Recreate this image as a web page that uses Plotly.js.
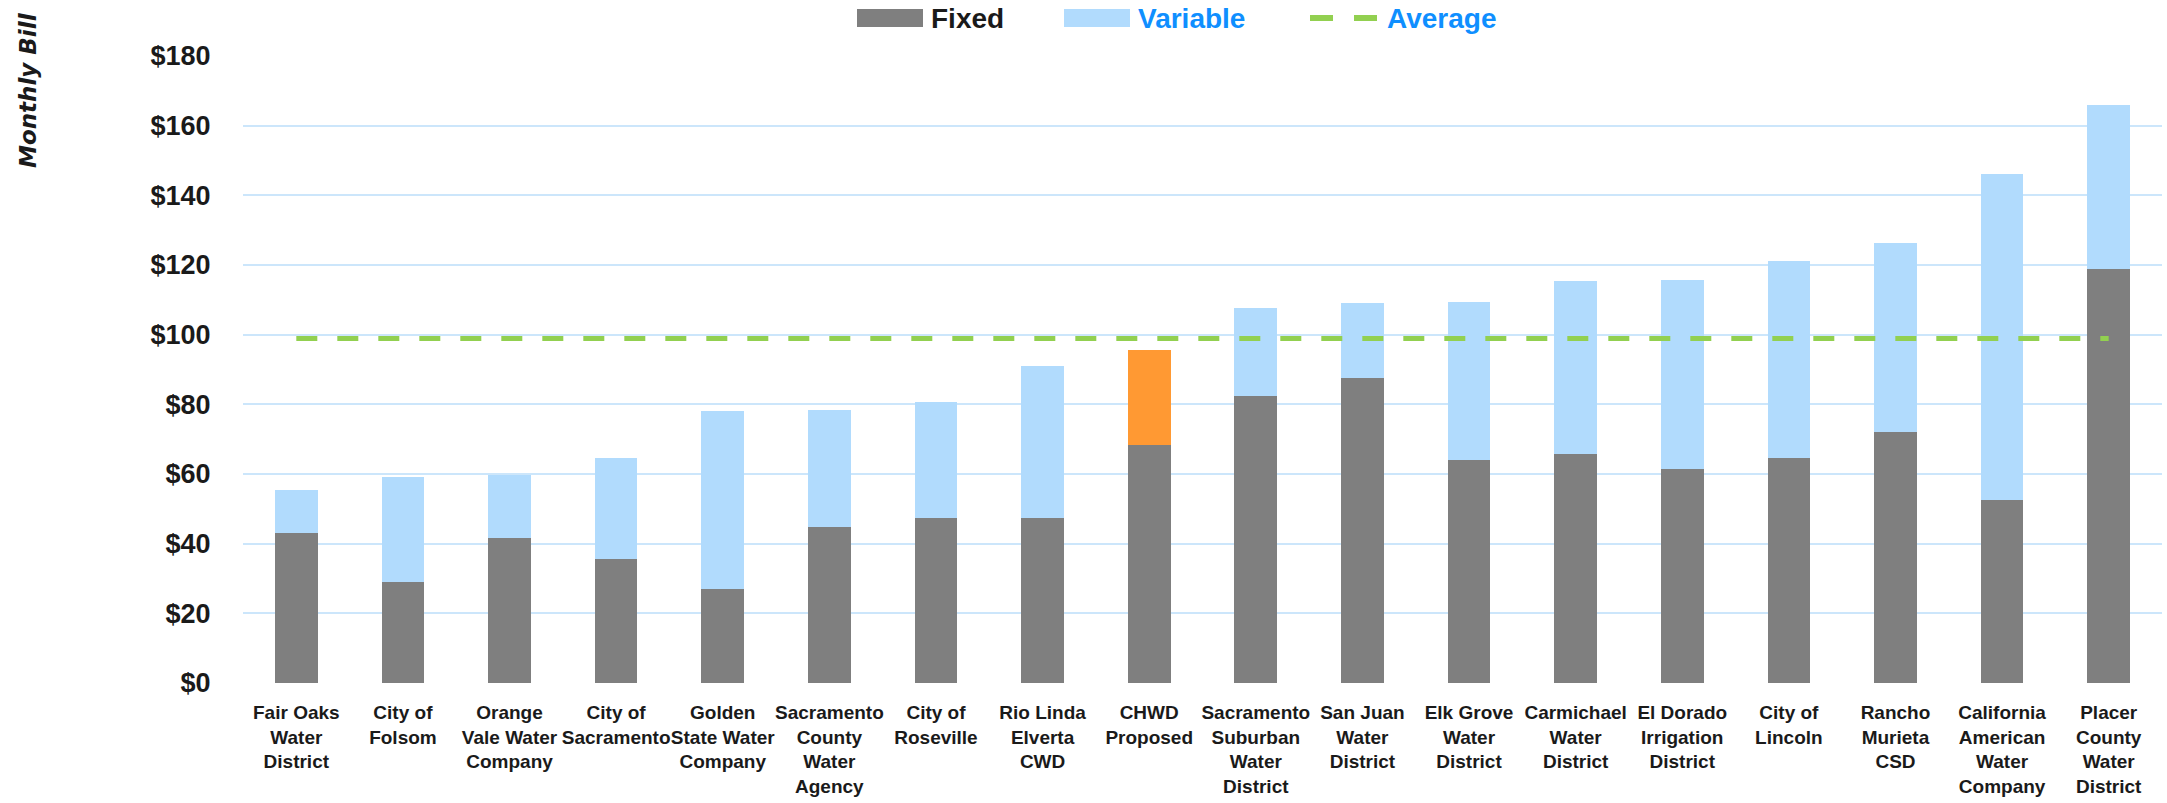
<!DOCTYPE html>
<html>
<head>
<meta charset="utf-8">
<script src="https://cdn.plot.ly/plotly-3.0.1.min.js"></script>
<style>
  html, body { margin: 0; padding: 0; background: #ffffff; }
  #chart { width: 2167px; height: 803px; }
</style>
</head>
<body>
<div id="chart"></div>
<script>
// ---- data ----
const categories = [
  "Fair Oaks Water District", "City of Folsom", "Orange Vale Water Company",
  "City of Sacramento", "Golden State Water Company", "Sacramento County Water Agency",
  "City of Roseville", "Rio Linda Elverta CWD", "CHWD Proposed",
  "Sacramento Suburban Water District", "San Juan Water District", "Elk Grove Water District",
  "Carmichael Water District", "El Dorado Irrigation District", "City of Lincoln",
  "Rancho Murieta CSD", "California American Water Company", "Placer County Water District"
];
const categoryTickLabels = [
  "Fair Oaks<br>Water<br>District", "City of<br>Folsom", "Orange<br>Vale Water<br>Company",
  "City of<br>Sacramento", "Golden<br>State Water<br>Company", "Sacramento<br>County<br>Water<br>Agency",
  "City of<br>Roseville", "Rio Linda<br>Elverta<br>CWD", "CHWD<br>Proposed",
  "Sacramento<br>Suburban<br>Water<br>District", "San Juan<br>Water<br>District", "Elk Grove<br>Water<br>District",
  "Carmichael<br>Water<br>District", "El Dorado<br>Irrigation<br>District", "City of<br>Lincoln",
  "Rancho<br>Murieta<br>CSD", "California<br>American<br>Water<br>Company", "Placer<br>County<br>Water<br>District"
];
const fixedCharge = [43.2, 29.1, 41.5, 35.6, 27.0, 44.8, 47.3, 47.4, 68.4, 82.5, 87.6, 64.1, 65.8, 61.3, 64.7, 72.2, 52.4, 118.8];
const variableCharge = [12.2, 30.1, 18.1, 29.1, 51.1, 33.6, 33.4, 43.7, 27.2, 25.1, 21.5, 45.3, 49.6, 54.4, 56.5, 54.2, 93.7, 47.2];
const averageBill = 98.9;
const highlightedCategory = "CHWD Proposed";

// ---- styling ----
const W = 2167, H = 803;
const M = { l: 243, r: 5, t: 56, b: 119.5 };
const plotW = W - M.l - M.r, plotH = H - M.t - M.b;
const px2x = px => (px - M.l) / plotW;
const py2y = py => (H - M.b - py) / plotH;

const GRAY = "#7f7f7f", LIGHTBLUE = "#b1dbfd", ORANGE = "#ff9933", GREEN = "#92d050";
const TEXTBLUE = "#0f8fff", DARK = "#1a1a1a";
const FONT = "Liberation Sans, Arial, sans-serif";

const traces = [
  {
    type: "bar", name: "Fixed", x: categories, y: fixedCharge,
    marker: { color: GRAY, line: { width: 0 } }, showlegend: false, hoverinfo: "x+y"
  },
  {
    type: "bar", name: "Variable", x: categories, y: variableCharge,
    marker: { color: categories.map(c => c === highlightedCategory ? ORANGE : LIGHTBLUE), line: { width: 0 } },
    showlegend: false, hoverinfo: "x+y"
  },
  {
    type: "scatter", mode: "lines", name: "Average", x: categories,
    y: categories.map(() => averageBill),
    line: { color: GREEN, width: 5, dash: "21px,20px" }, showlegend: false, hoverinfo: "y"
  }
];

const legendY = py2y(18);
const layout = {
  width: W, height: H,
  margin: M,
  paper_bgcolor: "#ffffff", plot_bgcolor: "#ffffff",
  barmode: "stack", bargap: 0.6,
  showlegend: false,
  font: { family: FONT, color: DARK },
  xaxis: {
    type: "category",
    tickvals: categories, ticktext: categoryTickLabels,
    tickfont: { family: FONT, size: 19, color: DARK, weight: "bold" },
    ticks: "outside", ticklen: 12, tickcolor: "rgba(0,0,0,0)",
    showgrid: false, zeroline: false, showline: false,
    tickangle: 0, automargin: false
  },
  yaxis: {
    range: [0, 180], dtick: 20, tickprefix: "$",
    tickfont: { family: FONT, size: 27, color: DARK, weight: "bold" },
    ticks: "outside", ticklen: 26, tickcolor: "rgba(0,0,0,0)",
    showgrid: true, gridcolor: "#cce6fb", gridwidth: 2,
    zeroline: false, showline: false, automargin: false
  },
  shapes: [
    { type: "rect", xref: "paper", yref: "paper", x0: px2x(857), x1: px2x(923), y0: py2y(27), y1: py2y(9),
      fillcolor: GRAY, line: { width: 0 } },
    { type: "rect", xref: "paper", yref: "paper", x0: px2x(1064), x1: px2x(1130), y0: py2y(27), y1: py2y(9),
      fillcolor: LIGHTBLUE, line: { width: 0 } },
    { type: "line", xref: "paper", yref: "paper", x0: px2x(1310), x1: px2x(1377), y0: py2y(18), y1: py2y(18),
      line: { color: GREEN, width: 6, dash: "23px,21px" } }
  ],
  annotations: [
    { xref: "paper", yref: "paper", x: px2x(929), y: legendY, xanchor: "left", yanchor: "middle",
      text: "Fixed", showarrow: false, font: { family: FONT, size: 28, color: DARK, weight: "bold" } },
    { xref: "paper", yref: "paper", x: px2x(1136), y: legendY, xanchor: "left", yanchor: "middle",
      text: "Variable", showarrow: false, font: { family: FONT, size: 28, color: TEXTBLUE, weight: "bold" } },
    { xref: "paper", yref: "paper", x: px2x(1385), y: legendY, xanchor: "left", yanchor: "middle",
      text: "Average", showarrow: false, font: { family: FONT, size: 28, color: TEXTBLUE, weight: "bold" } },
    { xref: "paper", yref: "paper", x: px2x(28), y: py2y(90), xanchor: "center", yanchor: "middle",
      text: "Monthly Bill", textangle: -90, showarrow: false,
      font: { family: "DejaVu Sans, sans-serif", size: 23, color: DARK, weight: "bold", style: "italic" } }
  ]
};

Plotly.newPlot("chart", traces, layout, { displayModeBar: false, staticPlot: true });
</script>
</body>
</html>
